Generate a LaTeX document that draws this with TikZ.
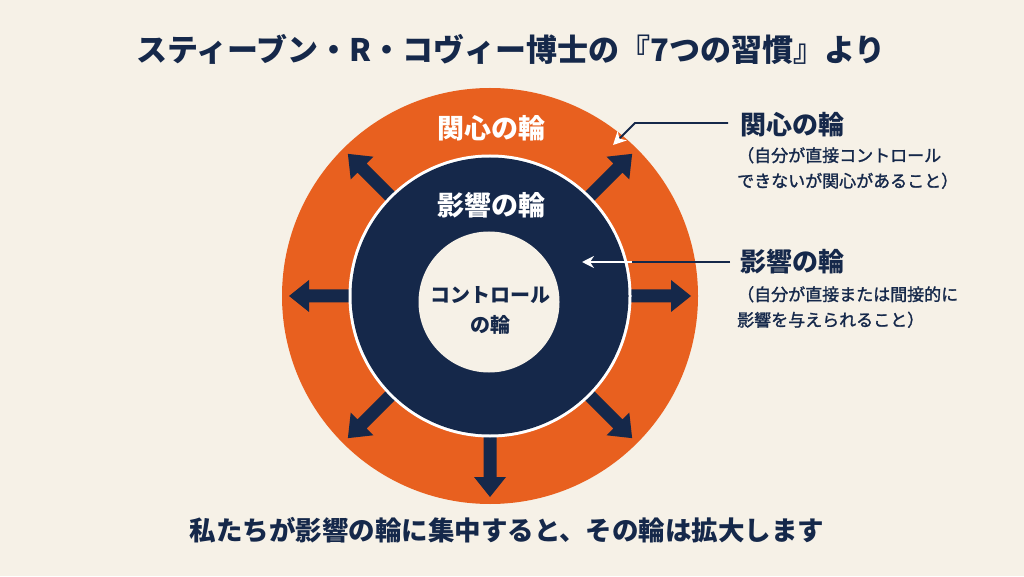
\documentclass[tikz,border=0pt]{standalone}
\usepackage{fontspec}
\setmainfont{Noto Sans CJK JP}
\usetikzlibrary{arrows.meta}
\definecolor{bg}{HTML}{F6F1E7}
\definecolor{orng}{HTML}{E8601F}
\definecolor{navy}{HTML}{15284A}
\tikzset{
  bigarrow/.pic={\fill[navy] (140,-6.5) -- (181,-6.5) -- (181,-16) -- (201,0) -- (181,16) -- (181,6.5) -- (140,6.5) -- cycle;},
  ringlabel/.style={text=white,font=\fontsize{27}{30}\selectfont\bfseries,inner sep=0pt},
  sidehead/.style={text=navy,font=\fontsize{26}{30}\selectfont\bfseries,anchor=west,inner sep=0pt},
  sidenote/.style={text=navy,font=\fontsize{17}{25.5}\selectfont\addfontfeature{FakeBold=1.5},anchor=north west,align=left,inner sep=0pt},
  leader/.style={draw=navy,line width=1.8pt}
}
\begin{document}
\begin{tikzpicture}[x=1pt,y=1pt]
\useasboundingbox (0,0) rectangle (1024,576);
\fill[bg] (0,0) rectangle (1024,576);
\coordinate (C) at (490,280);
% rings
\fill[orng] (C) circle (208);
\foreach \a in {0,45,135,180,225,270,315} \pic[rotate=\a] at (C) {bigarrow};
\fill[white] (C) circle (141.5);
\fill[navy] (C) circle (138.5);
\fill[bg] (489,274) circle (70.5);
% ring labels
\node[ringlabel] (concern) at (491,448) {関心の輪};
\node[ringlabel] (influence) at (491,371) {影響の輪};
\node[text=navy,font=\fontsize{20}{30}\selectfont\bfseries,align=center,inner sep=0pt] (control) at (490,266) {コントロール\\の輪};
% title
\node[text=navy,font=\fontsize{31}{36}\selectfont\bfseries,inner sep=0pt] (title) at (511,526) {スティーブン・R・コヴィー博士の『7つの習慣』より};
% bottom
\node[text=navy,font=\fontsize{26.5}{30}\selectfont\bfseries,inner sep=0pt] (bottom) at (507,46) {私たちが影響の輪に集中すると、その輪は拡大します};
% side labels
\node[sidehead] (h1) at (740,451) {関心の輪};
\node[sidenote] (n1) at (737,429) {（自分が直接コントロール\\できないが関心があること）};
\node[sidehead] (h2) at (740,314) {影響の輪};
\node[sidenote] (n2) at (737,290) {（自分が直接または間接的に\\影響を与えられること）};
% leaders
\coordinate (t1) at (613,431);
\coordinate (b1) at (635,453);
\draw[leader,-{Stealth[length=13pt,width=13pt,inset=4pt,fill=white,color=white]}] ([xshift=-12pt]h1.west |- b1) -- (b1) -- (t1);
\coordinate (t2) at (582,314);
\coordinate (e2) at (632,314);
\draw[leader] ([xshift=-10pt]h2.west) -- (e2);
\draw[draw=white,line width=1.8pt,-{Stealth[length=12pt,width=12pt,inset=4pt]}] (e2) -- (t2);
\end{tikzpicture}
\end{document}
